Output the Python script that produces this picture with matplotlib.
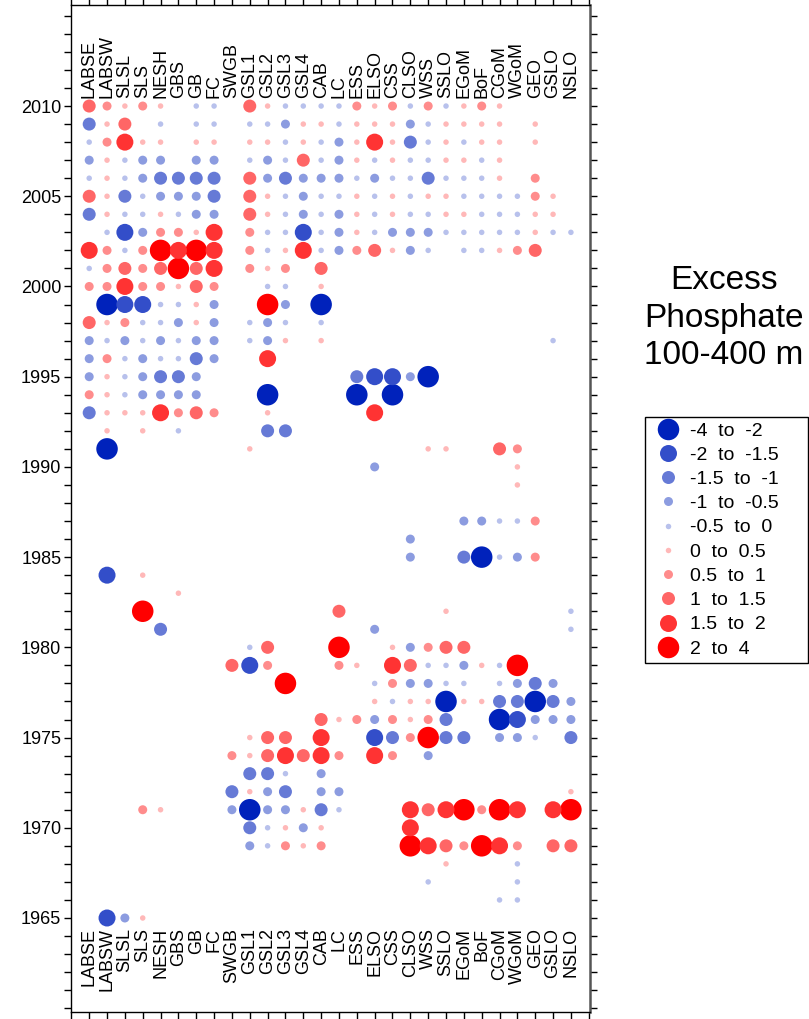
import matplotlib
matplotlib.use("Agg")
import matplotlib.pyplot as plt
from matplotlib.lines import Line2D
from matplotlib.patches import Rectangle
from matplotlib.ticker import MultipleLocator, FixedLocator

plt.rcParams['font.family'] = ['Liberation Sans', 'DejaVu Sans']

# ---- data: class codes (-5..-1 negative classes, 1..5 positive classes) ----
regions = ["LABSE", "LABSW", "SLSL", "SLS", "NESH", "GBS", "GB", "FC", "SWGB",
           "GSL1", "GSL2", "GSL3", "GSL4", "CAB", "LC", "ESS", "ELSO", "CSS",
           "CLSO", "WSS", "SSLO", "EGoM", "BoF", "CGoM", "WGoM", "GEO", "GSLO", "NSLO"]

class_labels = ["-4  to  -2", "-2  to  -1.5", "-1.5  to  -1", "-1  to  -0.5", "-0.5  to  0",
                "0  to  0.5", "0.5  to  1", "1  to  1.5", "1.5  to  2", "2  to  4"]
class_codes = [-5, -4, -3, -2, -1, 1, 2, 3, 4, 5]

LABSE = {2010: 3, 2009: -3, 2008: -1, 2007: -2, 2006: -1, 2005: 3, 2004: -3, 2002: 4, 2001: -1,
         2000: 2, 1998: 3, 1997: -2, 1996: -2, 1995: -2, 1994: 2, 1993: -3}
LABSW = {2010: 2, 2009: 1, 2008: 2, 2007: 1, 2006: 1, 2005: 1, 2004: 1, 2003: -1, 2002: 2, 2001: 2,
         2000: 2, 1999: -5, 1998: 1, 1997: -1, 1996: 2, 1995: 1, 1994: 1, 1993: 1, 1992: 1, 1991: -5,
         1984: -4, 1965: -4}
SLSL = {2010: 1, 2009: 3, 2008: 4, 2007: -1, 2006: -1, 2005: -3, 2004: -1, 2003: -4, 2002: -1,
        2001: 3, 2000: 4, 1999: -4, 1998: 2, 1997: -2, 1996: -1, 1995: -1, 1994: -1, 1993: 1, 1965: -2}
SLS = {2010: 2, 2008: 1, 2007: -2, 2006: -2, 2005: -1, 2004: -1, 2003: -2, 2002: 2, 2001: 2,
       2000: 2, 1999: -4, 1998: -1, 1997: -1, 1996: -2, 1995: -2, 1994: -2, 1993: 1, 1992: 1,
       1984: 1, 1982: 5, 1971: 2, 1965: 1}
NESH = {2010: 1, 2009: -1, 2008: 1, 2007: -2, 2006: -3, 2005: -2, 2004: 1, 2003: 2, 2002: 5,
        2001: 3, 2000: 2, 1999: -1, 1998: -1, 1997: -2, 1996: -1, 1995: -3, 1994: -2, 1993: 4,
        1981: -3, 1971: 1}
GBS = {2006: -3, 2005: -2, 2004: -1, 2003: 2, 2002: 4, 2001: 5, 2000: 1, 1999: -1, 1998: -2,
       1997: -1, 1996: -1, 1995: -3, 1994: -2, 1993: 2, 1992: -1, 1983: 1}
GB = {2010: -1, 2009: -1, 2008: 1, 2007: -2, 2006: -3, 2005: -2, 2004: -2, 2003: 1, 2002: 5,
      2001: 3, 2000: 3, 1999: 1, 1998: 1, 1997: -2, 1996: -3, 1995: -2, 1994: -2, 1993: 3}
FC = {2010: -1, 2009: -1, 2008: 1, 2007: -2, 2006: -3, 2005: -3, 2004: -2, 2003: 4, 2002: 4,
      2001: 4, 2000: 2, 1999: -2, 1998: -2, 1997: -2, 1996: -2, 1993: 2}
SWGB = {1979: 3, 1974: 2, 1972: -3, 1971: -2}
GSL1 = {2010: 3, 2009: -1, 2008: 1, 2007: -1, 2006: 3, 2005: 3, 2004: 3, 2003: 2, 2002: 2,
        2001: 2, 1998: -1, 1997: -1, 1991: 1, 1980: -1, 1979: -4, 1975: 1, 1974: 1, 1973: -3,
        1972: 1, 1971: -5, 1970: -3, 1969: -2}
GSL2 = {2010: 1, 2009: -1, 2008: 1, 2007: -2, 2006: -2, 2005: 1, 2004: 1, 2003: -1, 2002: -1,
        2001: 1, 2000: -1, 1999: 5, 1998: -2, 1997: -2, 1996: 4, 1994: -5, 1993: 1, 1992: -3,
        1980: 3, 1979: 2, 1975: 3, 1974: 3, 1973: -3, 1972: -2, 1971: -2, 1970: -1, 1969: -1}
GSL3 = {2010: -1, 2009: -2, 2008: -1, 2007: -1, 2006: -3, 2005: -1, 2004: -1, 2003: -1, 2002: 1,
        2001: 2, 2000: -1, 1999: -2, 1998: -1, 1997: 1, 1992: -3, 1978: 5, 1975: 3, 1974: 4,
        1973: -1, 1972: -3, 1971: -2, 1970: 1, 1969: 2}
GSL4 = {2010: -1, 2009: 1, 2008: 1, 2007: 3, 2006: -2, 2005: -2, 2004: -2, 2003: -4, 2002: 4,
        1974: 3, 1971: 1, 1970: -2, 1969: 1}
CAB = {2010: -1, 2009: 1, 2008: -1, 2007: -1, 2006: -2, 2005: -1, 2004: -1, 2003: -1, 2002: -1,
       2001: 3, 2000: 1, 1999: -5, 1998: -1, 1997: 1, 1976: 3, 1975: 4, 1974: 4, 1973: -2,
       1972: -2, 1971: -3, 1970: 1, 1969: 2}
LC = {2010: -1, 2009: -1, 2008: -2, 2007: -2, 2006: -2, 2005: -1, 2004: -2, 2003: -2, 2002: -2,
      1982: 3, 1980: 5, 1979: 2, 1976: 1, 1974: 2, 1972: -2, 1971: -1}
ESS = {2010: 2, 2009: 1, 2008: 1, 2007: 1, 2006: -1, 2005: 1, 2004: 1, 2003: 1, 2002: 2,
       1995: -3, 1994: -5, 1979: 1, 1976: 2}
ELSO = {2010: 1, 2009: 1, 2008: 4, 2007: -1, 2006: -2, 2005: -1, 2004: -1, 2003: -1, 2002: 3,
        1995: -4, 1993: 4, 1990: -2, 1981: -2, 1978: -1, 1977: 1, 1976: -2, 1975: -4, 1974: 4}
CSS = {2010: 2, 2009: 1, 2008: 1, 2007: 1, 2006: -1, 2005: 1, 2004: 1, 2003: -2, 2002: 1,
       1995: -4, 1994: -5, 1980: 1, 1979: 4, 1978: 2, 1977: -1, 1976: 2, 1975: -3, 1974: 2}
CLSO = {2010: -1, 2009: -2, 2008: -3, 2007: -1, 2006: -1, 2005: -1, 2004: -1, 2003: -2, 2002: -2,
        1995: -2, 1986: -2, 1985: -2, 1980: -2, 1979: 3, 1978: -2, 1977: 1, 1976: 1, 1975: 2,
        1971: 4, 1970: 4, 1969: 5}
WSS = {2010: 2, 2009: -1, 2008: -1, 2007: -1, 2006: -3, 2005: 1, 2004: -1, 2003: -2, 2002: -1,
       1995: -5, 1991: 1, 1980: 2, 1979: -1, 1978: -2, 1977: 1, 1976: 2, 1975: 5, 1974: -2,
       1971: 3, 1969: 4, 1967: -1}
SSLO = {2010: -1, 2009: 1, 2008: 1, 2007: 1, 2006: -1, 2005: 1, 2004: 1, 2003: -1, 1991: 1,
        1982: 1, 1980: 3, 1979: -1, 1978: -1, 1977: -5, 1976: -3, 1975: -3, 1971: 4, 1969: 3,
        1968: 1}
EGoM = {2010: 1, 2009: 1, 2008: -1, 2007: 1, 2006: -1, 2005: -1, 2004: 1, 2003: -1, 2002: -1,
        1987: -2, 1985: -3, 1980: 3, 1979: -2, 1978: -1, 1977: 1, 1975: -3, 1971: 5, 1969: 2}
BoF = {2010: 2, 2009: 1, 2008: 1, 2007: -1, 2006: -1, 2005: -1, 2004: -1, 2003: -1, 2002: -1,
       1987: -2, 1985: -5, 1979: 1, 1977: 1, 1971: 2, 1969: 5}
CGoM = {2010: 1, 2009: 1, 2008: 1, 2007: 1, 2006: 1, 2005: -1, 2004: -1, 2003: -1, 2002: 1,
        1991: 3, 1987: -1, 1985: -1, 1979: -1, 1978: -1, 1977: -3, 1976: -5, 1975: -2, 1971: 5,
        1969: 4, 1966: -1}
WGoM = {2005: -1, 2004: -1, 2003: -1, 2002: 2, 1991: 2, 1990: 1, 1989: 1, 1987: -1, 1985: -2,
        1979: 5, 1978: -2, 1977: -3, 1976: -4, 1975: -2, 1971: 4, 1969: 2, 1968: -1, 1967: -1,
        1966: -1}
GEO = {2009: 1, 2008: 1, 2006: 2, 2005: 2, 2004: 1, 2003: 1, 2002: 3, 1987: 2, 1985: 2,
       1978: -3, 1977: -5, 1976: -2, 1975: -1}
GSLO = {2005: 1, 2004: 1, 2003: -1, 1997: -1, 1978: -2, 1977: -3, 1976: -2, 1971: 4, 1969: 3}
NSLO = {2003: -1, 1982: -1, 1981: -1, 1977: -2, 1976: -2, 1975: -3, 1972: 1, 1971: 5, 1969: 3}

region_data = [LABSE, LABSW, SLSL, SLS, NESH, GBS, GB, FC, SWGB, GSL1, GSL2, GSL3, GSL4, CAB,
               LC, ESS, ELSO, CSS, CLSO, WSS, SSLO, EGoM, BoF, CGoM, WGoM, GEO, GSLO, NSLO]

# ---- styles ----
RED = (1.0, 0.0, 0.0)
BLUE = (0.0, 0.133, 0.733)
alpha_by_level = {1: 0.28, 2: 0.45, 3: 0.6, 4: 0.8, 5: 1.0}
diam_px_by_level = {1: 5.5, 2: 9.0, 3: 13.0, 4: 17.0, 5: 21.5}


def style(code):
    lvl = abs(code)
    base = RED if code > 0 else BLUE
    a = alpha_by_level[lvl]
    col = tuple(a * c + (1 - a) * 1.0 for c in base)
    d_pt = diam_px_by_level[lvl] * 72 / 100
    return col, d_pt


W, H = 809, 1019
fig = plt.figure(figsize=(W / 100, H / 100), dpi=100)
ax = fig.add_axes([71 / W, 1 - 1012 / H, (590 - 71) / W, (1012 - 5) / H])

# draw bigger circles first so small ones stay visible
points = []
for i, d in enumerate(region_data):
    for yr, code in d.items():
        points.append((i, yr, code))
points.sort(key=lambda p: -abs(p[2]))
for i, yr, code in points:
    col, d_pt = style(code)
    ax.scatter([i], [yr], s=d_pt ** 2, color=col, edgecolors='none', zorder=3)

ax.set_xlim(-1.02, 28.07)
ax.set_ylim(1959.79, 2015.6)

# region labels top and bottom
for i, name in enumerate(regions):
    ax.text(i, 2010.45, name, rotation=90, ha='center', va='bottom', fontsize=13)
    ax.text(i, 1964.45, name, rotation=90, ha='center', va='top', fontsize=13)

# ticks
ax.yaxis.set_minor_locator(MultipleLocator(1))
ax.set_yticks([1965, 1970, 1975, 1980, 1985, 1990, 1995, 2000, 2005, 2010])
ax.xaxis.set_major_locator(FixedLocator(list(range(-1, 29))))
ax.set_xticklabels([])
ax.tick_params(axis='y', which='both', direction='out', left=True, right=True,
               labelleft=True, labelright=False, labelsize=13, width=1)
ax.tick_params(axis='y', which='major', length=5, pad=2)
ax.tick_params(axis='y', which='minor', length=5)
ax.tick_params(axis='x', which='major', direction='out', top=True, bottom=True,
               labeltop=False, labelbottom=False, length=6, width=1)
for s in ax.spines.values():
    s.set_linewidth(1.0)
ax.spines['right'].set_linewidth(1.8)
ax.spines['right'].set_color('#555555')

# title
fig.text(724 / W, 1 - 318 / H, "Excess\nPhosphate\n100-400 m", ha='center', va='center',
         fontsize=24, linespacing=1.27)

# legend
handles = []
for code in class_codes:
    col, d_pt = style(code)
    handles.append(Line2D([], [], linestyle='none', marker='o', markersize=d_pt,
                          markerfacecolor=col, markeredgecolor='none'))
leg = fig.legend(handles, class_labels, loc='upper left',
                 bbox_to_anchor=(655 / W, 1 - 422 / H), bbox_transform=fig.transFigure,
                 frameon=False, fontsize=14,
                 labelspacing=0.34, handlelength=1.34, handletextpad=0.45,
                 borderpad=0.0, borderaxespad=0.0)
fig.patches.append(Rectangle((645 / W, 1 - 663 / H), (808 - 645) / W, (663 - 417) / H,
                             transform=fig.transFigure, fill=False, edgecolor='black',
                             linewidth=1.0))

fig.savefig("out.png", dpi=100)
